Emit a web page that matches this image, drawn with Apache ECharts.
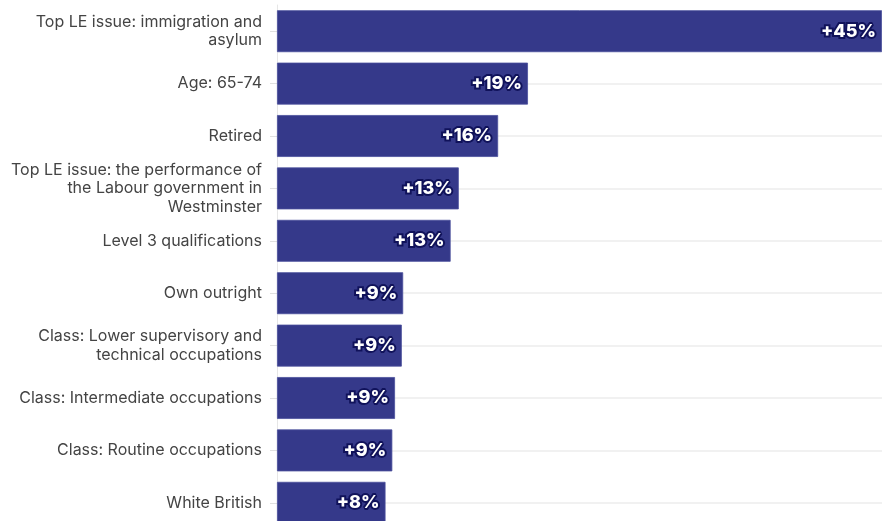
<!DOCTYPE html>
<html>
<head>
<meta charset="utf-8">
<style>
  html, body { margin: 0; padding: 0; background: #ffffff; }
  #chart { width: 882px; height: 521px; }
</style>
<script src="https://cdn.jsdelivr.net/npm/echarts@6/dist/echarts.min.js"></script>
</head>
<body>
<div id="chart"></div>
<script>
const categories = [
  "Top LE issue: immigration and\nasylum",
  "Age: 65-74",
  "Retired",
  "Top LE issue: the performance of\nthe Labour government in\nWestminster",
  "Level 3 qualifications",
  "Own outright",
  "Class: Lower supervisory and\ntechnical occupations",
  "Class: Intermediate occupations",
  "Class: Routine occupations",
  "White British"
];
const values = [44.6, 18.5, 16.3, 13.4, 12.8, 9.3, 9.2, 8.7, 8.5, 8.0];

const chart = echarts.init(document.getElementById('chart'), null, { renderer: 'canvas' });
chart.setOption({
  animation: false,
  backgroundColor: '#ffffff',
  grid: { left: 277, right: 0, top: 5, height: 524, containLabel: false, outerBoundsMode: 'none' },
  xAxis: {
    type: 'value',
    min: 0,
    max: 'dataMax',
    show: false
  },
  yAxis: {
    type: 'category',
    data: categories,
    inverse: true,
    axisLine: { show: true, lineStyle: { color: '#e6e6e6', width: 1 } },
    axisTick: { show: true, alignWithLabel: true, length: 7, lineStyle: { color: '#e0e0e0' } },
    splitLine: { show: true, alignWithLabel: true, interval: 0, lineStyle: { color: '#ececec', width: 1.5 } },
    axisLabel: {
      interval: 0,
      margin: 15,
      color: '#444444',
      fontFamily: 'Inter',
      fontSize: 16,
      lineHeight: 18.5,
      align: 'right'
    }
  },
  series: [{
    type: 'bar',
    data: values,
    barCategoryGap: '20%',
    itemStyle: { color: '#35398a', borderColor: '#4a4f9c', borderWidth: 0.8 },
    label: {
      show: true,
      position: 'insideRight',
      distance: 6,
      formatter: p => '+' + Math.round(p.value) + '%',
      color: '#ffffff',
      fontFamily: 'Inter',
      fontWeight: 800,
      fontSize: 18,
      textBorderColor: '#10125a',
      textBorderWidth: 4
    }
  }]
});
</script>
</body>
</html>
